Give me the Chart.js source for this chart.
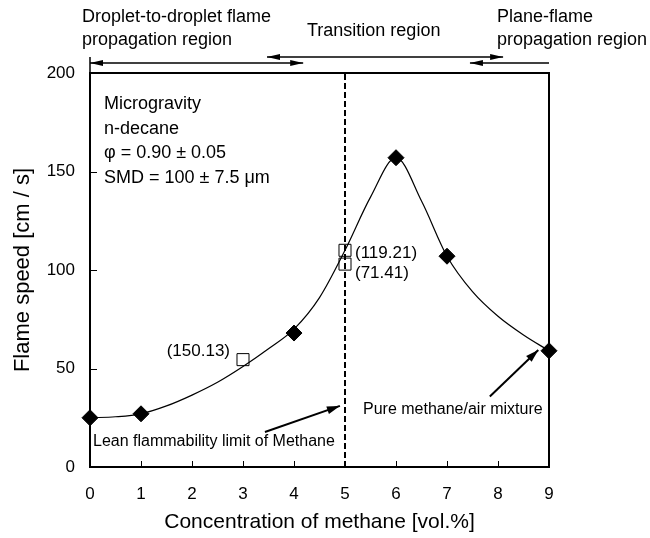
<!DOCTYPE html>
<html>
<head>
<meta charset="utf-8">
<script src="https://cdn.jsdelivr.net/npm/chart.js@4.4.0/dist/chart.umd.min.js"></script>
<style>
  body { margin: 0; background: #fff; }
  #wrap { width: 650px; height: 538px; }
</style>
</head>
<body>
<div id="wrap"><canvas id="myChart"></canvas></div>
<script>
const ctx = document.getElementById('myChart');

// measured points (diamonds)
const conc = [0, 1, 4, 6, 7, 9];
const speed = [25, 27, 68, 157, 107, 59];

// open squares with their labels
const sqConc = [3, 5, 5];
const sqSpeed = [54.5, 110, 103];
const sqLabels = ['(150.13)', '(119.21)', '(71.41)'];

// fitted curve
const curveConc = [0, 0.5, 1, 1.5, 2, 2.5, 3, 3.5, 4, 4.5, 5, 5.5, 6, 6.5, 7, 7.5, 8, 8.5, 9];
const curveSpeed = [25, 25.5, 27, 31, 36.5, 43, 51, 60, 70, 86, 110, 137, 157, 135, 107, 89, 76.5, 67, 59];

const xTicks = [0, 1, 2, 3, 4, 5, 6, 7, 8, 9];
const yTicks = [0, 50, 100, 150, 200];

const FONT = '"Liberation Sans", Arial, sans-serif';

function pts(xs, ys) {
    return xs.map((x, i) => ({ x: x, y: ys[i] }));
}

function arrowHead(c, x1, y1, x2, y2, len, half) {
    const a = Math.atan2(y2 - y1, x2 - x1);
    c.beginPath();
    c.moveTo(x2, y2);
    c.lineTo(x2 - len * Math.cos(a) + half * Math.sin(a), y2 - len * Math.sin(a) - half * Math.cos(a));
    c.lineTo(x2 - len * Math.cos(a) - half * Math.sin(a), y2 - len * Math.sin(a) + half * Math.cos(a));
    c.closePath();
    c.fill();
}

function arrow(c, x1, y1, x2, y2, opts) {
    c.beginPath();
    c.moveTo(x1, y1);
    c.lineTo(x2, y2);
    c.stroke();
    if (opts.end) arrowHead(c, x1, y1, x2, y2, opts.len, opts.half);
    if (opts.start) arrowHead(c, x2, y2, x1, y1, opts.len, opts.half);
}

const decorations = {
    id: 'decorations',
    beforeDatasetsDraw(chart) {
        const c = chart.ctx;
        const a = chart.chartArea;
        const xs = chart.scales.x, ys = chart.scales.y;
        c.save();
        c.strokeStyle = '#000';
        c.lineWidth = 2;
        c.strokeRect(a.left, a.top, a.right - a.left, a.bottom - a.top);
        // inward ticks
        c.lineWidth = 1;
        c.beginPath();
        xTicks.slice(1, -1).forEach(v => {
            const px = Math.round(xs.getPixelForValue(v)) + 0.5;
            c.moveTo(px, a.bottom);
            c.lineTo(px, a.bottom - 6);
        });
        yTicks.slice(1, -1).forEach(v => {
            const py = Math.round(ys.getPixelForValue(v)) + 0.5;
            c.moveTo(a.left, py);
            c.lineTo(a.left + 7, py);
        });
        c.stroke();
        c.restore();
    },
    afterDraw(chart) {
        const c = chart.ctx;
        const a = chart.chartArea;
        const xs = chart.scales.x, ys = chart.scales.y;
        const X = v => xs.getPixelForValue(v);
        const Y = v => ys.getPixelForValue(v);
        c.save();
        c.fillStyle = '#000';
        c.strokeStyle = '#000';

        // region arrows above the plot
        c.lineWidth = 1.5;
        const yLow = a.top - 10, yHigh = a.top - 16;
        arrow(c, X(0), yLow, X(4.18), yLow, { start: true, end: true, len: 13, half: 3 });
        arrow(c, X(3.47), yHigh, X(8.1), yHigh, { start: true, end: true, len: 13, half: 3 });
        arrow(c, X(9), yLow, X(7.45), yLow, { end: true, len: 13, half: 3 });
        c.beginPath();
        c.moveTo(X(0), yHigh);
        c.lineTo(X(0), a.top);
        c.stroke();

        // pointer arrows inside the plot
        c.lineWidth = 2;
        arrow(c, X(3.43), Y(17.8), X(4.9), Y(31), { end: true, len: 13, half: 4 });
        arrow(c, X(7.84), Y(35.8), X(8.79), Y(59.4), { end: true, len: 13, half: 4 });

        // region texts
        c.textBaseline = 'alphabetic';
        c.textAlign = 'left';
        c.font = '18px ' + FONT;
        c.fillText('Droplet-to-droplet flame', 82, 22);
        c.fillText('propagation region', 82, 45);
        c.fillText('Transition region', 307, 36);
        c.fillText('Plane-flame', 497, 22);
        c.fillText('propagation region', 497, 45);

        // conditions
        c.fillText('Microgravity', a.left + 14, 109);
        c.fillText('n-decane', a.left + 14, 134);
        c.fillText('\u03c6 = 0.90 \u00b1 0.05', a.left + 14, 158);
        c.fillText('SMD = 100 \u00b1 7.5 \u03bcm', a.left + 14, 183);

        // square labels
        c.font = '17px ' + FONT;
        c.textAlign = 'right';
        c.fillText(sqLabels[0], X(sqConc[0]) - 13, Y(sqSpeed[0]) - 4);
        c.textAlign = 'left';
        c.fillText(sqLabels[1], X(sqConc[1]) + 10, Y(sqSpeed[1]) + 8);
        c.fillText(sqLabels[2], X(sqConc[2]) + 10, Y(sqSpeed[2]) + 14);

        // pointer texts
        c.font = '16px ' + FONT;
        c.fillText('Lean flammability limit of Methane', a.left + 3, 446);
        c.fillText('Pure methane/air mixture', 363, 414);
        c.restore();
    }
};

new Chart(ctx, {
    type: 'scatter',
    data: {
        datasets: [
            {
                label: 'fit',
                data: pts(curveConc, curveSpeed),
                showLine: true,
                cubicInterpolationMode: 'monotone',
                borderColor: '#000',
                borderWidth: 1.2,
                pointRadius: 0,
                clip: false
            },
            {
                label: 'limit',
                data: pts([5, 5], [0, 200]),
                showLine: true,
                borderColor: '#000',
                borderWidth: 2,
                borderDash: [6, 3],
                pointRadius: 0
            },
            {
                label: 'squares',
                data: pts(sqConc, sqSpeed),
                pointStyle: 'rect',
                pointRadius: 8.5,
                backgroundColor: 'rgba(255,255,255,0)',
                borderColor: '#000',
                borderWidth: 1
            },
            {
                label: 'flame speed',
                data: pts(conc, speed),
                pointStyle: 'rectRot',
                pointRadius: 8,
                backgroundColor: '#000',
                borderColor: '#000',
                borderWidth: 1,
                clip: false
            }
        ]
    },
    options: {
        responsive: true,
        maintainAspectRatio: false,
        animation: false,
        layout: { padding: { top: 73, right: 101, left: 0, bottom: 0 } },
        plugins: {
            legend: { display: false },
            tooltip: { enabled: false }
        },
        scales: {
            x: {
                type: 'linear',
                min: 0,
                max: 9,
                afterFit: s => { s.height = 71; },
                afterBuildTicks: s => { s.ticks = xTicks.map(v => ({ value: v })); },
                grid: { display: false, drawTicks: false },
                border: { display: false },
                ticks: { color: '#000', font: { family: FONT, size: 17 }, padding: 17 },
                title: {
                    display: true,
                    text: 'Concentration of methane [vol.%]',
                    color: '#000',
                    font: { family: FONT, size: 21 },
                    padding: { bottom: 3 }
                }
            },
            y: {
                type: 'linear',
                min: 0,
                max: 200,
                afterFit: s => { s.width = 90; },
                afterBuildTicks: s => { s.ticks = yTicks.map(v => ({ value: v })); },
                grid: { display: false, drawTicks: false },
                border: { display: false },
                ticks: { color: '#000', font: { family: FONT, size: 17 }, padding: 15 },
                title: {
                    display: true,
                    text: 'Flame speed [cm / s]',
                    color: '#000',
                    font: { family: FONT, size: 22 },
                    padding: { top: 10 }
                }
            }
        }
    },
    plugins: [decorations]
});
</script>
</body>
</html>
